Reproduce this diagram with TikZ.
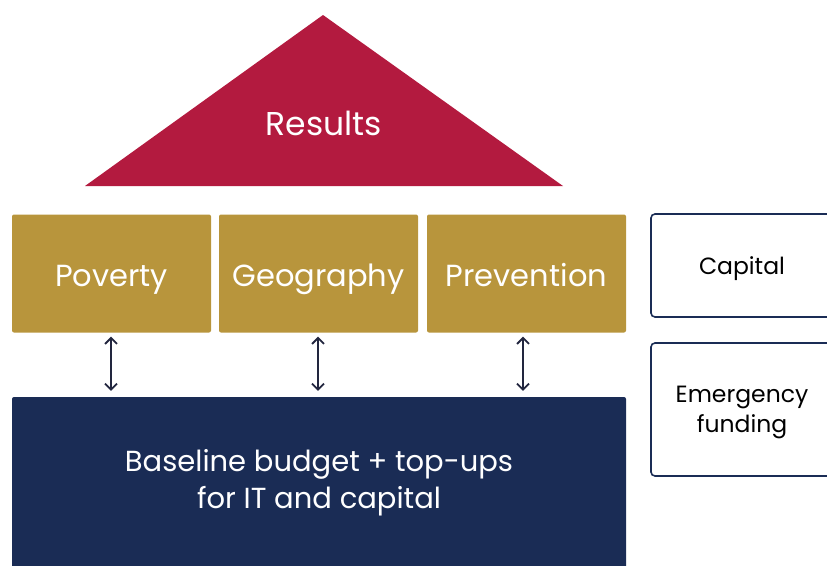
\documentclass[tikz,border=0pt]{standalone}
\usepackage{fontspec}
\setmainfont{Poppins}
\usetikzlibrary{arrows.meta}
\definecolor{crimson}{HTML}{B31A3F}
\definecolor{goldc}{HTML}{B8953C}
\definecolor{navyc}{HTML}{1A2C55}
\definecolor{arrowc}{HTML}{22263F}
\begin{document}
\begin{tikzpicture}[x=1pt,y=-1pt,
  goldbox/.style={fill=goldc, rounded corners=2pt, minimum width=199pt, minimum height=118pt, inner sep=0pt, text=white, text height=25pt, text depth=0pt, font=\fontsize{30.5}{36}\selectfont},
  sidebox/.style={draw=navyc, line width=1.6pt, fill=white, rounded corners=4pt, inner sep=0pt, minimum width=182pt},
  sidetext/.style={align=center, inner sep=0pt, text=black, font=\fontsize{23.5}{30}\selectfont},
  linkarrow/.style={{Straight Barb[length=6pt,width=12pt,line width=1.8pt]}-{Straight Barb[length=6pt,width=12pt,line width=1.8pt]}, line width=1.8pt, draw=arrowc}]
\useasboundingbox (0,0) rectangle (827,565);
\clip (0,0) rectangle (827,565);
% triangle
\coordinate (tl) at (85,186);
\coordinate (tt) at (323,15);
\coordinate (tr) at (563,186);
\fill[crimson] (tl) -- (tt) -- (tr) -- cycle;
\node[text=white, text height=23pt, text depth=0pt, inner sep=0pt, font=\fontsize{33}{38}\selectfont] (results) at (324,123.5) {Results};
% gold boxes
\node[goldbox] (pov) at (111.5,273.5) {Poverty};
\node[goldbox] (geo) at (318.5,273.5) {Geography};
\node[goldbox] (prev) at (526.5,273.5) {Prevention};
% baseline box
\node[fill=navyc, rounded corners=2pt, minimum width=614pt, minimum height=175pt, inner sep=0pt] (base) at (319,484.5) {};
\node[text=white, align=center, inner sep=0pt, font=\fontsize{29}{37}\selectfont] (basetext) at (319,483) {Baseline budget + top-ups\\for IT and capital};
% side boxes
\node[sidebox, minimum height=103pt, sidetext, text height=17pt, text depth=0pt] (cap) at (742,265.5) {Capital};
\node[sidebox, minimum height=133pt] (emg) at (742,409.5) {};
\node[sidetext] (emgtext) at (742,412.5) {Emergency\\funding};
% arrows
\draw[linkarrow] ([xshift=-0.5pt,yshift=-4pt]pov.south) -- ([xshift=-0.5pt,yshift=6pt]pov.south |- base.north);
\draw[linkarrow] ([xshift=-0.5pt,yshift=-4pt]geo.south) -- ([xshift=-0.5pt,yshift=6pt]geo.south |- base.north);
\draw[linkarrow] ([xshift=-3.5pt,yshift=-4pt]prev.south) -- ([xshift=-3.5pt,yshift=6pt]prev.south |- base.north);
\end{tikzpicture}
\end{document}
